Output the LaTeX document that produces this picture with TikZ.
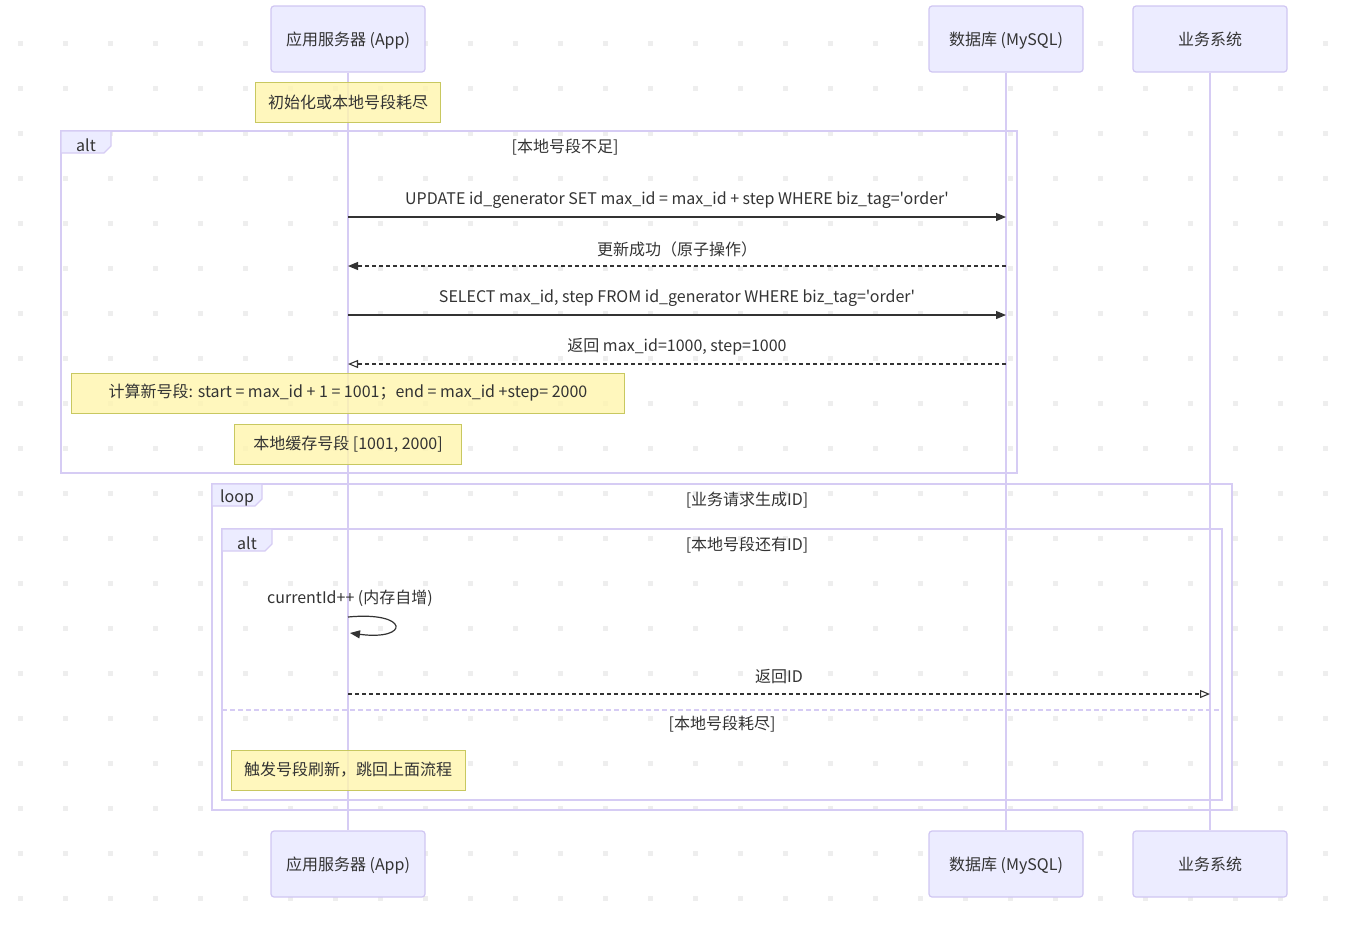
\documentclass[tikz,border=0pt]{standalone}
\usepackage{fontspec}
\setmainfont{Noto Sans CJK SC}[Ligatures=TeXOff]
\usetikzlibrary{arrows.meta}
\definecolor{actfill}{HTML}{ECECFF}
\definecolor{actline}{HTML}{D0C6F2}
\definecolor{lifel}{HTML}{D6CCF4}
\definecolor{notefill}{HTML}{FFF5AD}
\definecolor{noteline}{HTML}{C8C860}
\definecolor{msg}{HTML}{333333}
\definecolor{dotc}{HTML}{EEEEEE}

\begin{document}
\begin{tikzpicture}[x=1pt,y=-1pt,font=\fontsize{16}{19}\selectfont,text=msg,
  actor/.style={draw=actline,fill=actfill,line width=1.2pt,rounded corners=3pt,minimum width=154pt,minimum height=66pt,text height=15pt,text depth=2pt},
  note/.style={draw=noteline,fill=notefill,fill opacity=0.8,text opacity=1,line width=1pt,minimum height=40pt},
  frame/.style={draw=lifel,line width=1.6pt},
  tab/.style={draw=lifel,fill=actfill,line width=1.2pt},
  life/.style={draw=lifel,line width=1.6pt},
  call/.style={draw=msg,line width=1.2pt,-{Triangle[length=10pt,width=8pt]}},
  reply/.style={draw=msg,line width=1.1pt,dash pattern=on 4pt off 3pt,-{Triangle[length=10pt,width=8pt]}},
  areply/.style={draw=msg,line width=1.1pt,dash pattern=on 4pt off 3pt,-{Triangle[open,length=10pt,width=8pt]}}]
\useasboundingbox (0,0) rectangle (1367,930);
\foreach \i in {0,...,29}
  \foreach \j in {0,...,19}
    \fill[dotc] (17.5+45*\i,40.5+45*\j) rectangle ++(5,5);

\foreach \n/\xa/\ya/\xb/\yb/\l/\c/\cx in{
alta/61/131/1017/473/alt/{[本地号段不足]}/565,
loopa/212/484/1232/810/loop/{[业务请求生成ID]}/747,
altb/222/529/1222/800/alt/{[本地号段还有ID]}/747
}
{
    \draw[frame] (\xa,\ya) rectangle (\xb,\yb);
    \draw[tab] (\xa,\ya) -- ++(50,0) -- ++(0,15) -- ++(-7,7) -- (\xa,\ya+22) -- cycle;
    \node (\n tag) at (\xa+25,\ya+14) {\l};
    \node (\n cond) at (\cx,\ya+16) {\c};
}
\draw[frame,dash pattern=on 5pt off 3pt] (222,710) -- (1222,710);
\node (altb else) at (722,724) {[本地号段耗尽]};

\foreach \n/\x/\l in{
app/348/{应用服务器 (App)},
db/1006/{数据库 (MySQL)},
biz/1210/{业务系统}
}
{
    \node[actor] (\n top) at (\x,39) {\l};
    \node[actor] (\n bot) at (\x,864) {\l};
}

\foreach \n in {app,db,biz}
    \draw[life] (\n top) -- (\n bot);

\foreach \n/\y/\w/\l in{
na/102/185/{初始化或本地号段耗尽},
nb/393/553/{计算新号段: start = max\_id + 1 = 1001；end = max\_id +step= 2000},
nc/444/227/{本地缓存号段 [1001, 2000]},
nd/770/234/{触发号段刷新，跳回上面流程}
}
{
    \node[note,minimum width=\w pt] (\n) at (348,\y) {\l};
}

\foreach \m/\y in {ma/217,mb/266,mc/315,md/364}
{
    \coordinate (app \m) at (348,\y);
    \coordinate (db \m) at (1006,\y);
}
\coordinate (app me) at (348,694);
\coordinate (biz me) at (1210,694);
\coordinate (app sa) at (348,617);
\coordinate (app sb) at (350,633);

\draw[call] (app ma) -- node[midway,yshift=17pt] (la) {UPDATE id\_generator SET max\_id = max\_id + step WHERE biz\_tag='order'} (db ma);
\draw[reply] (db mb) -- node[midway,yshift=17pt] (lb) {更新成功（原子操作）} (app mb);
\draw[call] (app mc) -- node[midway,yshift=17pt] (lc) {SELECT max\_id, step FROM id\_generator WHERE biz\_tag='order'} (db mc);
\draw[areply] (db md) -- node[midway,yshift=17pt] (ld) {返回 max\_id=1000, step=1000} (app md);
\draw[call] (app sa) .. controls (410,611) and (410,641) .. (app sb);
\node (ls) at (350,598) {currentId++ (内存自增)};
\draw[areply] (app me) -- node[midway,yshift=17pt] (le) {返回ID} (biz me);
\end{tikzpicture}
\end{document}
